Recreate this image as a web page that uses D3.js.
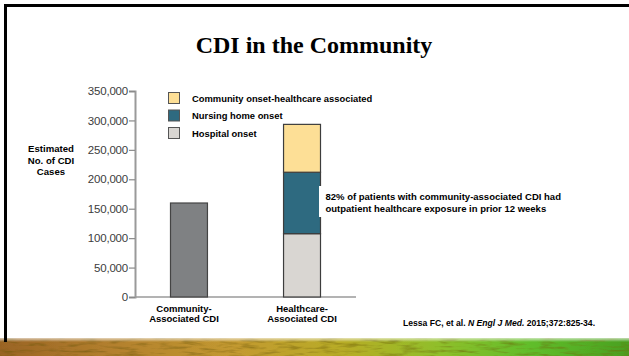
<!DOCTYPE html>
<html>
<head>
<meta charset="utf-8">
<script src="https://cdn.jsdelivr.net/npm/d3@7"></script>
<style>
  html, body { margin: 0; padding: 0; background: #fff; }
  svg { display: block; font-family: "Liberation Sans", Arial, sans-serif; }
</style>
</head>
<body>
<div id="chart"></div>
<script>
// ---------------------------------------------
// data
// ---------------------------------------------
const categories = ["Community-Associated CDI", "Healthcare-Associated CDI"];
const categoryLines = [["Community-", "Associated CDI"], ["Healthcare-", "Associated CDI"]];
const seriesNames = ["Hospital onset", "Nursing home onset", "Community onset-healthcare associated"];
const communityTotal = [159700];
const healthcareParts = [107600, 104400, 81300];
const yTicks = [0, 50000, 100000, 150000, 200000, 250000, 300000, 350000];

const width = 629, height = 356;

let svg = d3.select("#chart").append("svg")
    .attr("width", width)
    .attr("height", height);

// ---------------------------------------------
// slide background: frame + grass strip
// ---------------------------------------------
let defs = svg.append("defs");
let grad = defs.append("linearGradient").attr("id", "grass").attr("x1", 0).attr("x2", 1);
[["0%", "#9a6424"], ["18%", "#b3802e"], ["38%", "#c39a30"], ["55%", "#b7ad26"], ["70%", "#8fbf2a"], ["85%", "#5fbd2a"], ["100%", "#4aa020"]]
  .forEach(s => grad.append("stop").attr("offset", s[0]).attr("stop-color", s[1]));
let fade = defs.append("linearGradient").attr("id", "fade").attr("x1", 0).attr("x2", 0).attr("y1", 0).attr("y2", 1);
fade.append("stop").attr("offset", "0%").attr("stop-color", "#fff").attr("stop-opacity", 1);
fade.append("stop").attr("offset", "100%").attr("stop-color", "#fff").attr("stop-opacity", 0);

let filt = defs.append("filter").attr("id", "tex").attr("x", 0).attr("y", 0).attr("width", 1).attr("height", 1);
filt.append("feTurbulence").attr("type", "fractalNoise").attr("baseFrequency", "0.05 0.3").attr("numOctaves", 3).attr("seed", 7).attr("result", "noise");
filt.append("feColorMatrix").attr("in", "noise").attr("type", "matrix")
    .attr("values", "0 0 0 0 0.15  0 0 0 0 0.1  0 0 0 0 0  0 0 0 -1.6 0.85").attr("result", "shade");
filt.append("feComposite").attr("in", "shade").attr("in2", "SourceGraphic").attr("operator", "atop");

svg.append("rect").attr("x", 0).attr("y", 338).attr("width", width).attr("height", 18)
    .attr("fill", "url(#grass)").attr("filter", "url(#tex)");
svg.append("rect").attr("x", 0).attr("y", 336).attr("width", width).attr("height", 6)
    .attr("fill", "url(#fade)");

// black frame (top + left)
svg.append("path")
    .attr("d", "M5.5,342V5.5H629")
    .attr("fill", "none")
    .attr("stroke", "#000")
    .attr("stroke-width", 3);

// title
svg.append("text")
    .attr("x", 314).attr("y", 53)
    .attr("text-anchor", "middle")
    .style("font-family", "'Liberation Serif', 'Times New Roman', serif")
    .style("font-weight", "bold")
    .style("font-size", "24px")
    .text("CDI in the Community");

// ---------------------------------------------
// scales + axes
// ---------------------------------------------
let y = d3.scaleLinear().domain([0, 350000]).range([297, 91]);
let x = d3.scaleBand().domain(categories).range([135, 356]).paddingInner(0.673).paddingOuter(0.314);

let yAxis = svg.append("g")
    .attr("transform", "translate(135,0)")
    .call(d3.axisLeft(y).tickValues(yTicks).tickSize(6).tickPadding(1).tickFormat(d3.format(",")));
yAxis.select(".domain").attr("stroke", "#9a9a9a").attr("stroke-width", 2);
yAxis.selectAll(".tick line").attr("stroke", "#8a8a8a").attr("stroke-width", 1.2);
yAxis.selectAll(".tick text")
    .attr("fill", "#3c3c3c")
    .style("font-size", "11.5px")
    .style("letter-spacing", "-0.2px");

// baseline
svg.append("line")
    .attr("x1", 135).attr("x2", 356)
    .attr("y1", y(0)).attr("y2", y(0))
    .attr("stroke", "#9a9a9a").attr("stroke-width", 1.5);

// y title
svg.append("text")
    .attr("x", 51).attr("y", 152)
    .attr("text-anchor", "middle")
    .style("font-size", "9.6px").style("font-weight", "bold")
    .selectAll("tspan")
    .data(["Estimated", "No. of CDI", "Cases"])
    .enter().append("tspan")
      .attr("x", 51)
      .attr("dy", (d, i) => i ? 11.5 : 0)
      .text(d => d);

// ---------------------------------------------
// bars
// ---------------------------------------------
const colors = ["#d9d6d2", "#2e6a80", "#fddf96"];

svg.append("rect")
    .attr("x", x(categories[0]))
    .attr("y", y(d3.sum(communityTotal)))
    .attr("width", x.bandwidth())
    .attr("height", y(0) - y(d3.sum(communityTotal)))
    .attr("fill", "#7f8183")
    .attr("stroke", "#444")
    .attr("stroke-width", 1.2);

let stacked = [];
let acc = 0;
healthcareParts.forEach((v, i) => {
  stacked.push({y0: acc, y1: acc + v, c: colors[i]});
  acc += v;
});

svg.append("g").selectAll("rect")
    .data(stacked)
    .enter().append("rect")
      .attr("x", x(categories[1]))
      .attr("y", d => y(d.y1))
      .attr("width", x.bandwidth())
      .attr("height", d => y(d.y0) - y(d.y1))
      .attr("fill", d => d.c)
      .attr("stroke", "#3d3d3d")
      .attr("stroke-width", 1.2);

// category labels
svg.append("g").selectAll("text")
    .data(categories)
    .enter().append("text")
      .attr("text-anchor", "middle")
      .style("font-size", "9.5px").style("font-weight", "bold")
      .each(function(d, i) {
        d3.select(this).selectAll("tspan")
          .data(categoryLines[i])
          .enter().append("tspan")
            .attr("x", x(d) + x.bandwidth() / 2 - (i ? 0 : 5))
            .attr("y", (t, j) => 311.5 + j * 10.5)
            .text(t => t);
      });

// ---------------------------------------------
// legend
// ---------------------------------------------
let legend = svg.append("g").selectAll("g")
    .data(seriesNames.slice().reverse())
    .enter().append("g")
      .attr("transform", (d, i) => "translate(168.5," + (92.5 + i * 17.5) + ")");
legend.append("rect")
    .attr("width", 11).attr("height", 11)
    .attr("fill", (d, i) => colors[2 - i])
    .attr("stroke", "#555").attr("stroke-width", 1);
legend.append("text")
    .attr("x", 23.5).attr("y", 9)
    .style("font-size", "9.4px").style("font-weight", "bold")
    .text(d => d);

// ---------------------------------------------
// annotation + citation
// ---------------------------------------------
svg.append("rect")
    .attr("x", 319).attr("y", 186)
    .attr("width", 255).attr("height", 31)
    .attr("fill", "#fff");
svg.append("text")
    .style("font-size", "9.5px").style("font-weight", "bold")
    .selectAll("tspan")
    .data(["82% of patients with community-associated CDI had", "outpatient healthcare exposure in prior 12 weeks"])
    .enter().append("tspan")
      .attr("x", 325.5)
      .attr("y", (d, i) => 199.5 + i * 12)
      .text(d => d);

let cite = svg.append("text")
    .attr("x", 403).attr("y", 325.5)
    .style("font-size", "8.6px").style("font-weight", "bold");
cite.append("tspan").text("Lessa FC, et al. ");
cite.append("tspan").style("font-style", "italic").text("N Engl J Med.");
cite.append("tspan").text(" 2015;372:825-34.");
</script>
</body>
</html>
